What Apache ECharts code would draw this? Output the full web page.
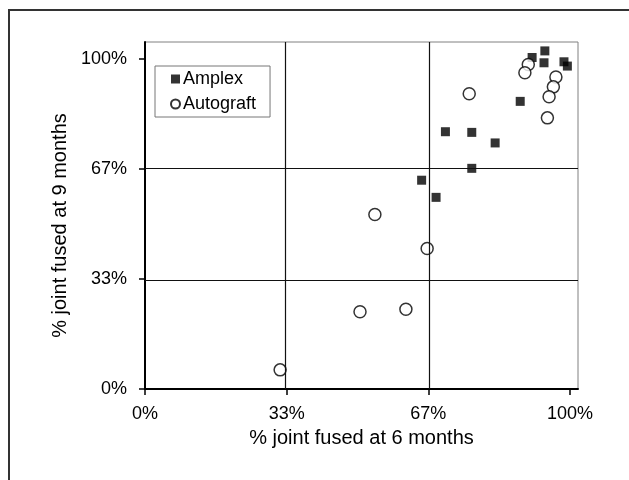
<!DOCTYPE html>
<html>
<head>
<meta charset="utf-8">
<script src="https://cdn.jsdelivr.net/npm/echarts@6/dist/echarts.min.js"></script>
<style>html,body{margin:0;padding:0;background:#fff;}#c{width:629px;height:480px;}</style>
</head>
<body>
<div id="c"></div>
<script>
// Data (fractions: 1 = 100%)
const seriesNames = ['Amplex', 'Autograft'];
const amplexX = [0.941, 0.911, 0.939, 0.986, 0.994, 0.883, 0.707, 0.769, 0.824, 0.769, 0.651, 0.685];
const amplexY = [1.025, 1.005, 0.989, 0.992, 0.979, 0.872, 0.780, 0.778, 0.746, 0.669, 0.633, 0.581];
const autograftX = [0.902, 0.894, 0.967, 0.961, 0.951, 0.947, 0.763, 0.541, 0.664, 0.506, 0.614, 0.318];
const autograftY = [0.984, 0.959, 0.946, 0.916, 0.886, 0.822, 0.895, 0.529, 0.426, 0.234, 0.242, 0.058];
const tickValues = [0, 1/3, 2/3, 1];
const gridValues = [1/3, 2/3];
const xTitle = '% joint fused at 6 months';
const yTitle = '% joint fused at 9 months';

const zip = (xs, ys) => xs.map((x, i) => [x, ys[i]]);
const fmt = v => Math.round(v * 100) + '%';
const font = 'Liberation Sans, Arial, sans-serif';

const chart = echarts.init(document.getElementById('c'), null, {renderer: 'canvas'});
chart.setOption({
  animation: false,
  backgroundColor: '#fff',
  graphic: [{
    type: 'rect', silent: true, z: 0,
    shape: {x: 9, y: 10, width: 700, height: 600},
    style: {fill: 'none', stroke: '#333', lineWidth: 2}
  }],
  grid: {left: 145, top: 42, right: 51, bottom: 91, show: true, borderColor: '#808080', borderWidth: 1, backgroundColor: 'transparent'},
  legend: {
    orient: 'vertical', left: 155, top: 66,
    data: seriesNames,
    itemWidth: 9, itemHeight: 9, itemGap: 7,
    padding: [4, 14, 4, 15],
    borderColor: '#777', borderWidth: 1, borderRadius: 0,
    backgroundColor: '#fff',
    textStyle: {fontFamily: font, fontSize: 18, color: '#000', padding: [0, 0, 0, -2]}
  },
  xAxis: {
    type: 'value', min: 0, max: 1.019,
    name: xTitle, nameLocation: 'middle', nameGap: 39,
    nameTextStyle: {fontFamily: font, fontSize: 20, color: '#000'},
    axisLine: {show: true, onZero: false, lineStyle: {color: '#000', width: 2}},
    axisTick: {show: true, inside: false, length: 6, customValues: tickValues, lineStyle: {color: '#000', width: 1.5}},
    axisLabel: {customValues: tickValues, formatter: fmt, margin: 16, fontFamily: font, fontSize: 18, color: '#000'},
    splitLine: {show: false}
  },
  yAxis: {
    type: 'value', min: 0, max: 1.052,
    name: yTitle, nameLocation: 'middle', nameGap: 69,
    nameTextStyle: {fontFamily: font, fontSize: 20, color: '#000', padding: [0, 20, 0, 0]},
    axisLine: {show: true, onZero: false, lineStyle: {color: '#000', width: 2}},
    axisTick: {show: true, inside: false, length: 6, customValues: tickValues, lineStyle: {color: '#000', width: 1.5}},
    axisLabel: {customValues: tickValues, formatter: fmt, margin: 18, fontFamily: font, fontSize: 18, color: '#000'},
    splitLine: {show: false}
  },
  series: [
    {
      name: seriesNames[0], type: 'scatter', symbol: 'rect', symbolSize: 9,
      itemStyle: {color: '#000'},
      data: zip(amplexX, amplexY), z: 3,
      markLine: {
        silent: true, symbol: 'none', label: {show: false},
        lineStyle: {color: '#111', width: 1.2, type: 'solid'},
        emphasis: {disabled: true},
        data: gridValues.map(v => ({xAxis: v})).concat(gridValues.map(v => ({yAxis: v})))
      }
    },
    {
      name: seriesNames[1], type: 'scatter', symbol: 'circle', symbolSize: 12,
      itemStyle: {color: '#fff', borderColor: '#000', borderWidth: 1.5},
      data: zip(autograftX, autograftY), z: 4
    }
  ]
});
</script>
</body>
</html>
